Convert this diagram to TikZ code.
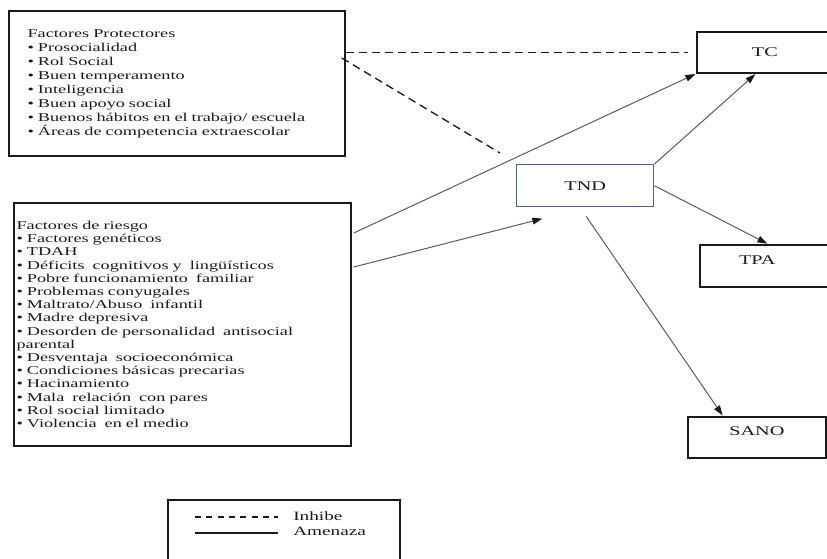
\documentclass[tikz,border=0pt]{standalone}
\usepackage{fontspec}
\setmainfont{Liberation Serif}[FakeStretch=1.52]
\usetikzlibrary{arrows.meta,positioning,calc}
\definecolor{ink}{HTML}{1A1A1A}
\definecolor{wire}{HTML}{5C5C5C}
\definecolor{slateblue}{HTML}{4F6281}

\begin{document}
\begin{tikzpicture}[
  x=0.75pt,
  y=-0.75pt,
  line join=miter,
  >={Triangle[length=7.5pt,width=5pt,color=ink]},
  every node/.style={
    text=ink,
  },
  box/.style={
    rectangle,
    draw=ink,
    line width=1.3pt,
    anchor=north west,
    inner sep=0pt,
  },
  listbox/.style={
    box,
    align=left,
    font=\fontsize{9}{10.5}\selectfont,
  },
  tagbox/.style={
    box,
    font=\fontsize{10}{12}\selectfont,
    minimum height=31pt,
  },
  arr/.style={
    ->,
    draw=wire,
    line width=0.75pt,
    shorten >=0.5pt,
  },
  inhib/.style={
    draw=ink,
    line width=1pt,
    dash pattern=on 6pt off 3.75pt,
  },
]

\useasboundingbox (0,0) rectangle (827,558);

% --- nodes ---
\node[listbox, inner xsep=14pt, text width=224pt, minimum height=108.75pt]
  (prot) at (8,10) {
  Factores Protectores\\
  • Prosocialidad\\
  • Rol Social\\
  • Buen temperamento\\
  • Inteligencia\\
  • Buen apoyo social\\
  • Buenos hábitos en el trabajo/ escuela\\
  • Áreas de competencia extraescolar
};

\node[listbox, font=\fontsize{9}{9.9}\selectfont, inner xsep=2pt,
  text width=248.75pt, minimum height=182.25pt]
  (risk) at (13,202) {
  Factores de riesgo\\
  • Factores genéticos\\
  • TDAH\\
  • Déficits~ cognitivos y~ lingüísticos\\
  • Pobre funcionamiento~ familiar\\
  • Problemas conyugales\\
  • Maltrato/Abuso~ infantil\\
  • Madre depresiva\\
  • Desorden de personalidad~ antisocial\\
  parental\\
  • Desventaja~ socioeconómica\\
  • Condiciones básicas precarias\\
  • Hacinamiento\\
  • Mala~ relación~ con pares\\
  • Rol social limitado\\
  • Violencia~ en el medio
};

\node[tagbox, minimum width=102pt, minimum height=30.75pt] (tc) at (696,31) {TC};

\node[tagbox, draw=slateblue, line width=1.1pt, minimum width=102.75pt,
  minimum height=31.5pt] (tnd) at (516,164) {TND};

\node[tagbox, minimum width=98pt, text height=14.5pt, text depth=17pt]
  (tpa) at (699,244) {TPA\hspace*{12pt}};

\node[tagbox, minimum width=103.5pt, text height=13.8pt, text depth=16.95pt]
  (sano) at (687,416) {SANO};

% legend
\node[box, line width=1.5pt, minimum width=174pt, minimum height=49pt]
  (key) at (167,499) {};
\node[anchor=west, inner sep=0pt, font=\fontsize{9.5}{11}\selectfont]
  (keyinh) at ($(key.north west)+(126,17)$) {Inhibe};
\node[anchor=west, inner sep=0pt, font=\fontsize{9.5}{11}\selectfont]
  (keyame) at ($(key.north west)+(126,32)$) {Amenaza};

% --- connectors ---
\coordinate (rtop) at ($(risk.north east)+(2,31)$);
\coordinate (rlow) at ($(risk.north east)+(2,65)$);
\coordinate (tndin) at ($(tnd.south west)+(27,11)$);
\coordinate (inhend) at (500,153);

\draw[arr] (rtop) -- (tc.south west);
\draw[arr] (rlow) -- (tndin);
\draw[arr] (tnd.north east) -- ($(tc.south)+(-9,0)$);
\draw[arr] (tnd.east) -- ($(tpa.north west)+(69,0)$);
\draw[arr] ($(tnd.south)+(1,9)$) -- ($(sano.north west)+(36,0)$);

\draw[inhib, shorten >=6pt] (prot.east |- tc.west) -- (tc.west);
\draw[inhib] ($(prot.north east)+(-4,48)$) -- (inhend);

% legend samples
\draw[inhib, line width=0.8pt, dash pattern=on 4.5pt off 4pt]
  ($(keyinh.west)+(-98,1)$) -- ($(keyinh.west)+(-15,1)$);
\draw[draw=ink, line width=0.8pt]
  ($(keyame.west)+(-98,2)$) -- ($(keyame.west)+(-15,2)$);

\end{tikzpicture}
\end{document}
